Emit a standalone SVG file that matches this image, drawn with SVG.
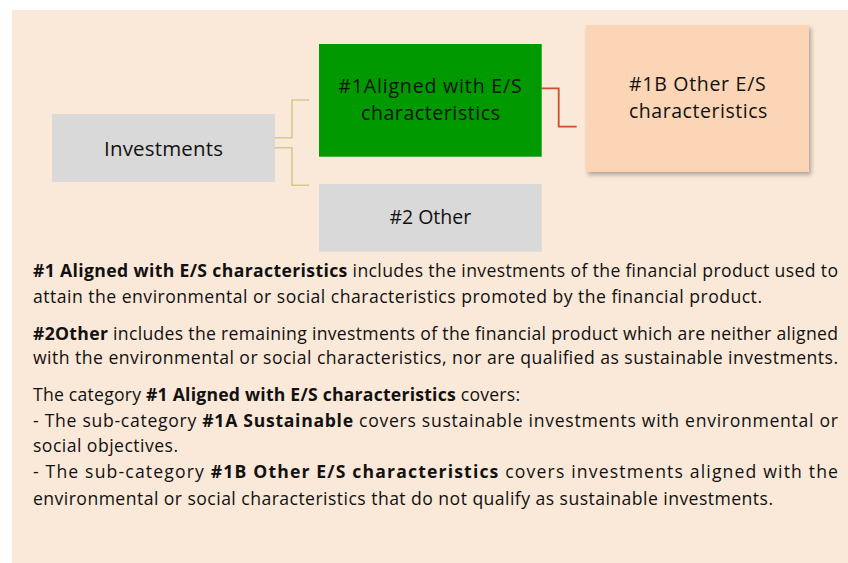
<svg xmlns="http://www.w3.org/2000/svg" width="848" height="563" viewBox="0 0 848 563">
<defs>
<filter id="sh" x="-10%" y="-10%" width="130%" height="130%">
<feDropShadow dx="2" dy="3" stdDeviation="2" flood-color="#000" flood-opacity="0.3"/>
</filter>
<style>
.t{font-family:"Open Sans","Liberation Sans",sans-serif;fill:#111}
.n{font-size:19.5px}
.b{font-size:17.6px}
.k{font-weight:bold}
.c1{fill:none;stroke:#D5C98E;stroke-width:1.6}
.c2{fill:none;stroke:#C9502E;stroke-width:1.8}
</style>
</defs>
<rect x="12" y="10" width="836" height="553" fill="#FAE8D8"/>
<g id="connectors">
<polyline class="c1" points="275,137.7 292,137.7 292,100 309,100"/>
<polyline class="c1" points="275,147.7 292,147.7 292,185.3 309,185.3"/>
<polyline class="c2" points="541.7,88.3 558.7,88.3 558.7,126.7 576.7,126.7"/>
</g>
<g id="investments">
<rect x="52" y="114" width="223" height="68" fill="#D9D9D9"/>
<text class="t" x="104" y="155.7" font-size="20.5" textLength="119">Investments</text>
</g>
<g id="aligned">
<rect x="319" y="44" width="222.7" height="112.7" fill="#009900"/>
<text class="t n" x="338.3" y="93.3" textLength="183.4">#1Aligned with E/S</text>
<text class="t n" x="361" y="120" textLength="139">characteristics</text>
</g>
<g id="other">
<rect x="319" y="184" width="222.7" height="67.7" fill="#D9D9D9"/>
<text class="t n" x="430.3" y="224" text-anchor="middle">#2 Other</text>
</g>
<g id="other-es">
<rect x="586" y="25" width="223" height="146.7" fill="#FBD5B5" filter="url(#sh)"/>
<text class="t n" x="629" y="91" textLength="136.7">#1B Other E/S</text>
<text class="t n" x="629" y="117.5" textLength="138.3">characteristics</text>
</g>
<g id="legend">
<text class="t b" x="33" y="276.7" textLength="805"><tspan class="k">#1 Aligned with E/S characteristics</tspan> includes the investments of the financial product used to</text>
<text class="t b" x="33" y="303.3" textLength="729">attain the environmental or social characteristics promoted by the financial product.</text>
<text class="t b" x="33" y="340" textLength="805"><tspan class="k">#2Other</tspan> includes the remaining investments of the financial product which are neither aligned</text>
<text class="t b" x="33" y="364.3" textLength="805">with the environmental or social characteristics, nor are qualified as sustainable investments.</text>
<text class="t b" x="33" y="400.7" textLength="487">The category <tspan class="k">#1 Aligned with E/S characteristics</tspan> covers:</text>
<text class="t b" x="33" y="426.7" textLength="805">- The sub-category <tspan class="k">#1A Sustainable</tspan> covers sustainable investments with environmental or</text>
<text class="t b" x="33" y="451.7" textLength="145">social objectives.</text>
<text class="t b" x="33" y="478.3" textLength="805">- The sub-category <tspan class="k">#1B Other E/S characteristics</tspan> covers investments aligned with the</text>
<text class="t b" x="33" y="505" textLength="740">environmental or social characteristics that do not qualify as sustainable investments.</text>
</g>
</svg>
